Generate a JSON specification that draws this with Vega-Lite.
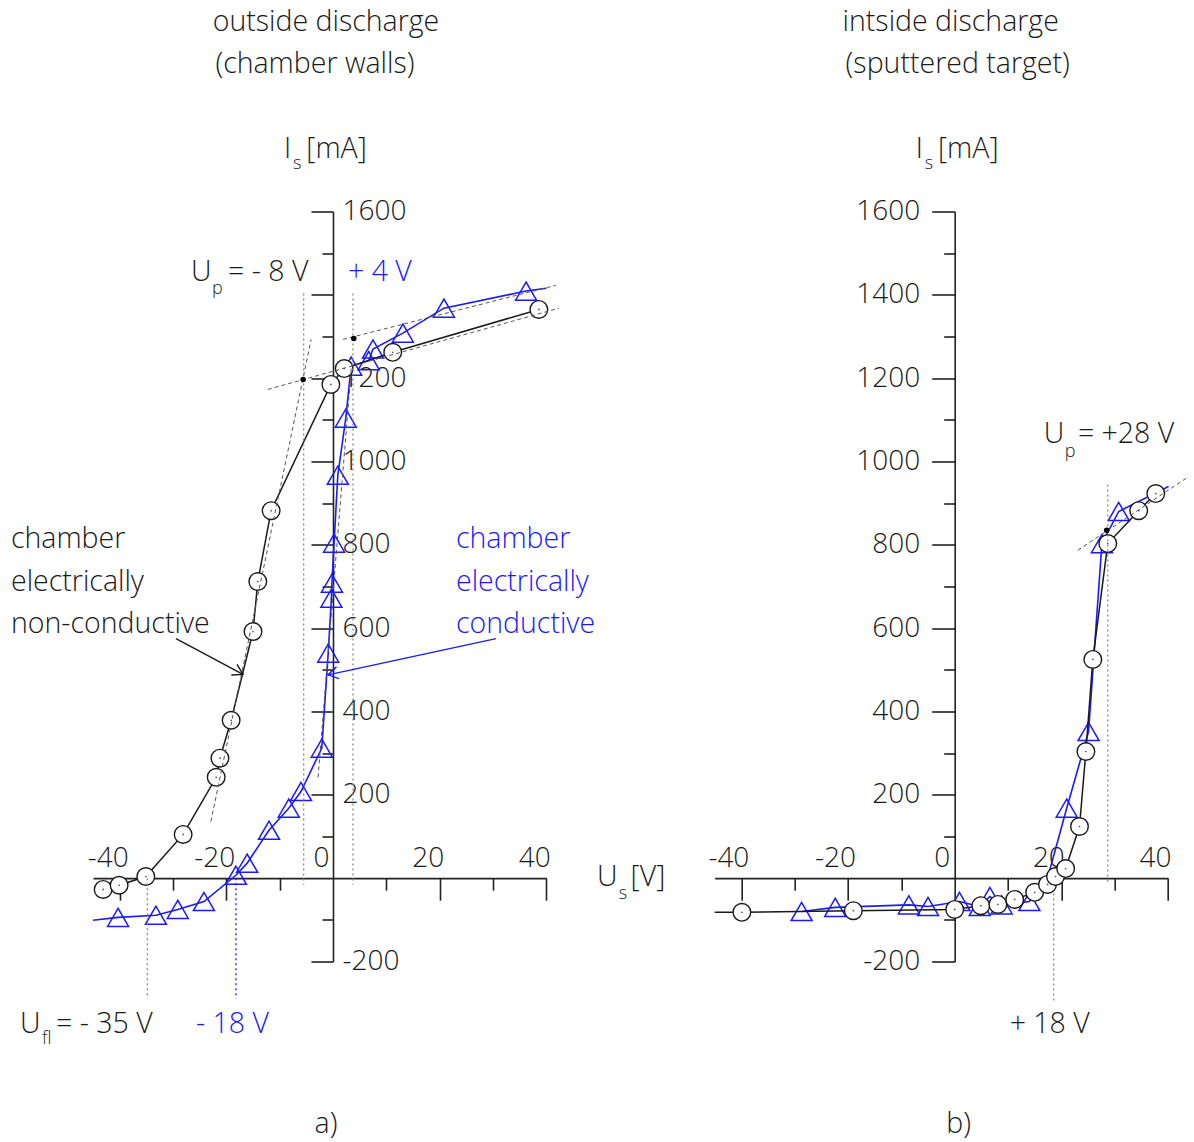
{
  "$schema": "https://vega.github.io/schema/vega-lite/v6.json",
  "background": "white",
  "padding": {"left": 10, "top": 6.5, "right": 5, "bottom": 5},
  "autosize": {"type": "pad"},
  "spacing": 167.7,
  "bounds": "flush",
  "config": {
    "view": {"stroke": null},
    "text": {"font": "Open Sans", "fontWeight": 300},
    "axis": {"grid": false, "title": null, "domainColor": "#222", "domainWidth": 1.6, "tickColor": "#222", "tickWidth": 1.6, "labelFont": "Open Sans", "labelFontWeight": 300, "labelFontSize": 28, "labelColor": "#1a1a1a", "labelFlush": false, "labelOverlap": false, "labelBound": false}
  },
  "datasets": {
    "pts": [
      {"p": "a", "s": "nc", "m": 1, "U": -43.1, "I": -27},
      {"p": "a", "s": "nc", "m": 1, "U": -40.1, "I": -17},
      {"p": "a", "s": "nc", "m": 1, "U": -35.1, "I": 4},
      {"p": "a", "s": "nc", "m": 1, "U": -28.1, "I": 105},
      {"p": "a", "s": "nc", "m": 1, "U": -21.9, "I": 242},
      {"p": "a", "s": "nc", "m": 1, "U": -21.2, "I": 288},
      {"p": "a", "s": "nc", "m": 1, "U": -19.1, "I": 379},
      {"p": "a", "s": "nc", "m": 1, "U": -15.0, "I": 592},
      {"p": "a", "s": "nc", "m": 1, "U": -14.1, "I": 712},
      {"p": "a", "s": "nc", "m": 1, "U": -11.6, "I": 882},
      {"p": "a", "s": "nc", "m": 1, "U": -0.4, "I": 1185},
      {"p": "a", "s": "nc", "m": 1, "U": 2.1, "I": 1223},
      {"p": "a", "s": "nc", "m": 1, "U": 11.2, "I": 1262},
      {"p": "a", "s": "nc", "m": 1, "U": 38.6, "I": 1365},
      {"p": "a", "s": "c", "m": 0, "U": -45, "I": -101},
      {"p": "a", "s": "c", "m": 1, "U": -40.3, "I": -94},
      {"p": "a", "s": "c", "m": 1, "U": -33.2, "I": -89},
      {"p": "a", "s": "c", "m": 1, "U": -29.1, "I": -75},
      {"p": "a", "s": "c", "m": 1, "U": -24.2, "I": -56},
      {"p": "a", "s": "c", "m": 1, "U": -18.2, "I": 7},
      {"p": "a", "s": "c", "m": 1, "U": -16.1, "I": 36},
      {"p": "a", "s": "c", "m": 1, "U": -12.0, "I": 115},
      {"p": "a", "s": "c", "m": 1, "U": -8.3, "I": 168},
      {"p": "a", "s": "c", "m": 1, "U": -6.0, "I": 208},
      {"p": "a", "s": "c", "m": 1, "U": -2.1, "I": 312},
      {"p": "a", "s": "c", "m": 1, "U": -0.9, "I": 540},
      {"p": "a", "s": "c", "m": 1, "U": -0.3, "I": 672},
      {"p": "a", "s": "c", "m": 1, "U": -0.2, "I": 708},
      {"p": "a", "s": "c", "m": 1, "U": 0.2, "I": 804},
      {"p": "a", "s": "c", "m": 1, "U": 0.9, "I": 967},
      {"p": "a", "s": "c", "m": 1, "U": 2.4, "I": 1104},
      {"p": "a", "s": "c", "m": 1, "U": 3.4, "I": 1229},
      {"p": "a", "s": "c", "m": 1, "U": 6.7, "I": 1242},
      {"p": "a", "s": "c", "m": 1, "U": 7.5, "I": 1270},
      {"p": "a", "s": "c", "m": 1, "U": 13.1, "I": 1308},
      {"p": "a", "s": "c", "m": 1, "U": 20.8, "I": 1368},
      {"p": "a", "s": "c", "m": 1, "U": 36.2, "I": 1409},
      {"p": "a", "s": "c", "m": 0, "U": 40, "I": 1416},
      {"p": "b", "s": "nc", "m": 0, "U": -45, "I": -82},
      {"p": "b", "s": "nc", "m": 1, "U": -39.9, "I": -82},
      {"p": "b", "s": "nc", "m": 1, "U": -19.0, "I": -78},
      {"p": "b", "s": "nc", "m": 1, "U": 0, "I": -75},
      {"p": "b", "s": "nc", "m": 1, "U": 4.9, "I": -66},
      {"p": "b", "s": "nc", "m": 1, "U": 8.1, "I": -63},
      {"p": "b", "s": "nc", "m": 1, "U": 11.25, "I": -51},
      {"p": "b", "s": "nc", "m": 1, "U": 15.0, "I": -34},
      {"p": "b", "s": "nc", "m": 1, "U": 17.4, "I": -15},
      {"p": "b", "s": "nc", "m": 1, "U": 18.9, "I": 4},
      {"p": "b", "s": "nc", "m": 1, "U": 20.8, "I": 23},
      {"p": "b", "s": "nc", "m": 1, "U": 23.4, "I": 124},
      {"p": "b", "s": "nc", "m": 1, "U": 24.6, "I": 304},
      {"p": "b", "s": "nc", "m": 1, "U": 25.9, "I": 525},
      {"p": "b", "s": "nc", "m": 1, "U": 28.7, "I": 803},
      {"p": "b", "s": "nc", "m": 1, "U": 34.5, "I": 882},
      {"p": "b", "s": "nc", "m": 1, "U": 37.7, "I": 923},
      {"p": "b", "s": "c", "m": 1, "U": -28.7, "I": -80},
      {"p": "b", "s": "c", "m": 1, "U": -22.4, "I": -70},
      {"p": "b", "s": "c", "m": 1, "U": -8.6, "I": -64},
      {"p": "b", "s": "c", "m": 1, "U": -5.0, "I": -68},
      {"p": "b", "s": "c", "m": 1, "U": 0.9, "I": -56},
      {"p": "b", "s": "c", "m": 1, "U": 4.7, "I": -68},
      {"p": "b", "s": "c", "m": 1, "U": 6.6, "I": -44},
      {"p": "b", "s": "c", "m": 1, "U": 8.8, "I": -64},
      {"p": "b", "s": "c", "m": 1, "U": 14.0, "I": -56},
      {"p": "b", "s": "c", "m": 0, "U": 17.6, "I": 9},
      {"p": "b", "s": "c", "m": 1, "U": 21.0, "I": 168},
      {"p": "b", "s": "c", "m": 1, "U": 25.1, "I": 352},
      {"p": "b", "s": "c", "m": 1, "U": 27.6, "I": 803},
      {"p": "b", "s": "c", "m": 1, "U": 30.75, "I": 880},
      {"p": "b", "s": "c", "m": 0, "U": 40.1, "I": 940}
    ],
    "guides": [
      {"p": "a", "k": "tan", "U": -12.2, "I": 1173, "U2": 42.4, "I2": 1368},
      {"p": "a", "k": "tan", "U": 1.9, "I": 1293, "U2": 41.8, "I2": 1423},
      {"p": "a", "k": "tan", "U": -22.9, "I": 136, "U2": -4.1, "I2": 1293},
      {"p": "a", "k": "tan", "U": -2.8, "I": 242, "U2": 3.6, "I2": 1250},
      {"p": "a", "k": "vdot", "U": -5.5, "I": 1403, "U2": -5.5, "I2": -15},
      {"p": "a", "k": "vdot", "U": 3.75, "I": 1403, "U2": 3.75, "I2": -15},
      {"p": "a", "k": "vdot", "U": -34.8, "I": 0, "U2": -34.8, "I2": -289},
      {"p": "a", "k": "vblue", "U": -18.2, "I": 0, "U2": -18.2, "I2": -289},
      {"p": "a", "k": "dot", "U": -5.6, "I": 1197},
      {"p": "a", "k": "dot", "U": 3.9, "I": 1295},
      {"p": "b", "k": "tan", "U": 23.1, "I": 787, "U2": 43.9, "I2": 964},
      {"p": "b", "k": "vdot", "U": 28.7, "I": 945, "U2": 28.7, "I2": -15},
      {"p": "b", "k": "vdot", "U": 18.56, "I": -37, "U2": 18.56, "I2": -296},
      {"p": "b", "k": "dot", "U": 28.5, "I": 835}
    ],
    "arrows": [
      {"p": "a", "c": "k", "U": -29.44, "I": 575, "U2": -16.88, "I2": 489},
      {"p": "a", "c": "b", "U": 30.56, "I": 575, "U2": -0.94, "I2": 488}
    ],
    "txt": [
      {"p": "a", "kind": "main", "al": "center", "c": "k", "t": "outside discharge", "U": -1.31, "I": 2056},
      {"p": "a", "kind": "main", "al": "center", "c": "k", "t": "(chamber walls)", "U": -3.38, "I": 1955},
      {"p": "a", "kind": "main", "al": "left", "c": "k", "t": "I", "U": -9.19, "I": 1751},
      {"p": "a", "kind": "sub", "al": "left", "c": "k", "t": "s", "U": -7.5, "I": 1713},
      {"p": "a", "kind": "main", "al": "left", "c": "k", "t": "[mA]", "U": -5.0, "I": 1751},
      {"p": "a", "kind": "main", "al": "left", "c": "k", "t": "U", "U": -26.63, "I": 1456},
      {"p": "a", "kind": "sub", "al": "left", "c": "k", "t": "p", "U": -22.69, "I": 1413},
      {"p": "a", "kind": "main", "al": "left", "c": "k", "t": "= - 8 V", "U": -19.69, "I": 1456},
      {"p": "a", "kind": "main", "al": "left", "c": "b", "t": "+ 4 V", "U": 2.81, "I": 1456},
      {"p": "a", "kind": "main", "al": "left", "c": "k", "t": "chamber", "U": -60.38, "I": 813},
      {"p": "a", "kind": "main", "al": "left", "c": "k", "t": "electrically", "U": -60.38, "I": 712},
      {"p": "a", "kind": "main", "al": "left", "c": "k", "t": "non-conductive", "U": -60.38, "I": 611},
      {"p": "a", "kind": "main", "al": "left", "c": "b", "t": "chamber", "U": 23.06, "I": 813},
      {"p": "a", "kind": "main", "al": "left", "c": "b", "t": "electrically", "U": 23.06, "I": 712},
      {"p": "a", "kind": "main", "al": "left", "c": "b", "t": "conductive", "U": 23.06, "I": 611},
      {"p": "a", "kind": "main", "al": "left", "c": "k", "t": "U", "U": 49.5, "I": 4},
      {"p": "a", "kind": "sub", "al": "left", "c": "k", "t": "s", "U": 53.6, "I": -39},
      {"p": "a", "kind": "main", "al": "left", "c": "k", "t": "[V]", "U": 55.8, "I": 4},
      {"p": "a", "kind": "main", "al": "left", "c": "k", "t": "U", "U": -58.69, "I": -349},
      {"p": "a", "kind": "sub", "al": "left", "c": "k", "t": "fl", "U": -54.55, "I": -387},
      {"p": "a", "kind": "main", "al": "left", "c": "k", "t": "= - 35 V", "U": -51.94, "I": -349},
      {"p": "a", "kind": "main", "al": "left", "c": "b", "t": "- 18 V", "U": -25.69, "I": -349},
      {"p": "a", "kind": "main", "al": "center", "c": "k", "t": "a)", "U": -1.31, "I": -589},
      {"p": "b", "kind": "main", "al": "center", "c": "k", "t": "intside discharge", "U": -0.75, "I": 2056},
      {"p": "b", "kind": "main", "al": "center", "c": "k", "t": "(sputtered target)", "U": 0.56, "I": 1955},
      {"p": "b", "kind": "main", "al": "left", "c": "k", "t": "I", "U": -7.31, "I": 1751},
      {"p": "b", "kind": "sub", "al": "left", "c": "k", "t": "s", "U": -5.62, "I": 1713},
      {"p": "b", "kind": "main", "al": "left", "c": "k", "t": "[mA]", "U": -3.13, "I": 1751},
      {"p": "b", "kind": "main", "al": "left", "c": "k", "t": "U", "U": 16.69, "I": 1065},
      {"p": "b", "kind": "sub", "al": "left", "c": "k", "t": "p", "U": 20.63, "I": 1022},
      {"p": "b", "kind": "main", "al": "left", "c": "k", "t": "= +28 V", "U": 23.1, "I": 1065},
      {"p": "b", "kind": "main", "al": "left", "c": "k", "t": "+ 18 V", "U": 10.31, "I": -349},
      {"p": "b", "kind": "main", "al": "center", "c": "k", "t": "b)", "U": 0.75, "I": -589}
    ]
  },
  "hconcat": [
    {
      "width": 453.33,
      "height": 750,
      "encoding": {
        "x": {"field": "U", "type": "quantitative", "scale": {"domain": [-45, 40], "nice": false, "zero": false},
          "axis": {"orient": "bottom", "offset": -83.33, "values": [-40, -30, -20, -10, 0, 10, 20, 30, 40],
            "tickSize": {"condition": {"test": "datum.value % 20 === 0", "value": 22}, "value": 12},
            "tickOpacity": {"condition": {"test": "datum.value === 0", "value": 0}, "value": 1},
            "labelExpr": "datum.value % 20 === 0 ? '' + datum.value : ''",
            "labelAlign": "center", "labelBaseline": "alphabetic", "labelPadding": -34, "labelOffset": -12}},
        "y": {"field": "I", "type": "quantitative", "scale": {"domain": [-200, 1600], "nice": false, "zero": false},
          "axis": {"orient": "left", "offset": -240, "values": [-200, -100, 100, 200, 300, 400, 500, 600, 700, 800, 900, 1000, 1100, 1200, 1300, 1400, 1500, 1600],
            "tickSize": {"condition": {"test": "datum.value % 200 === 0", "value": 22}, "value": 11},
            "labelExpr": "datum.value % 200 === 0 && datum.value !== 1400 ? '' + datum.value : ''",
            "labelAlign": "left", "labelBaseline": "middle", "labelPadding": -31}}
      },
      "layer": [
        {"data": {"name": "pts"}, "transform": [{"filter": "datum.p === 'a' && datum.s === 'c'"}],
          "mark": {"type": "line", "color": "#1a1aff", "strokeWidth": 1.6}},
        {"data": {"name": "pts"}, "transform": [{"filter": "datum.p === 'a' && datum.s === 'c' && datum.m === 1"}],
          "mark": {"type": "point", "shape": "triangle-up", "filled": false, "color": "#1a1aff", "strokeWidth": 1.5, "size": 440, "opacity": 1}},
        {"data": {"name": "pts"}, "transform": [{"filter": "datum.p === 'a' && datum.s === 'nc'"}],
          "mark": {"type": "line", "color": "#1a1a1a", "strokeWidth": 1.5}},
        {"data": {"name": "pts"}, "transform": [{"filter": "datum.p === 'a' && datum.s === 'nc' && datum.m === 1"}],
          "mark": {"type": "point", "shape": "circle", "filled": true, "fill": "white", "stroke": "#1a1a1a", "strokeWidth": 1.4, "size": 310, "opacity": 1}},
        {"data": {"name": "pts"}, "transform": [{"filter": "datum.p === 'a' && datum.s === 'nc' && datum.m === 1"}],
          "mark": {"type": "point", "shape": "circle", "filled": true, "color": "#555", "size": 3, "opacity": 1}},
        {"data": {"name": "guides"}, "transform": [{"filter": "datum.p === 'a' && datum.k === 'tan'"}],
          "mark": {"type": "rule", "color": "#555", "strokeWidth": 1, "strokeDash": [4, 3]},
          "encoding": {"x2": {"field": "U2"}, "y2": {"field": "I2"}}},
        {"data": {"name": "guides"}, "transform": [{"filter": "datum.p === 'a' && datum.k === 'vdot'"}],
          "mark": {"type": "rule", "color": "#888", "strokeWidth": 1.3, "strokeDash": [2, 3]},
          "encoding": {"x2": {"field": "U2"}, "y2": {"field": "I2"}}},
        {"data": {"name": "guides"}, "transform": [{"filter": "datum.p === 'a' && datum.k === 'vblue'"}],
          "mark": {"type": "rule", "color": "#1a1aff", "strokeWidth": 1.3, "strokeDash": [2, 3]},
          "encoding": {"x2": {"field": "U2"}, "y2": {"field": "I2"}}},
        {"data": {"name": "guides"}, "transform": [{"filter": "datum.p === 'a' && datum.k === 'dot'"}],
          "mark": {"type": "point", "shape": "circle", "filled": true, "color": "#000", "size": 30, "opacity": 1}},
        {"data": {"name": "arrows"}, "transform": [{"filter": "datum.p === 'a'"}],
          "mark": {"type": "rule", "strokeWidth": 1.4},
          "encoding": {"x2": {"field": "U2"}, "y2": {"field": "I2"},
            "color": {"field": "c", "type": "nominal", "scale": {"domain": ["k", "b"], "range": ["#1a1a1a", "#1a1aff"]}, "legend": null}}},
        {"data": {"name": "arrows"}, "transform": [{"filter": "datum.p === 'a' && datum.c === 'k'"}],
          "mark": {"type": "point", "shape": "M-1,-0.6L0,0L-1,0.6", "filled": false, "color": "#1a1a1a", "strokeWidth": 1.4, "size": 400, "angle": 28.4, "opacity": 1},
          "encoding": {"x": {"field": "U2", "type": "quantitative"}, "y": {"field": "I2", "type": "quantitative"}}},
        {"data": {"name": "arrows"}, "transform": [{"filter": "datum.p === 'a' && datum.c === 'b'"}],
          "mark": {"type": "point", "shape": "M-1,-0.6L0,0L-1,0.6", "filled": false, "color": "#1a1aff", "strokeWidth": 1.4, "size": 400, "angle": 167.9, "opacity": 1},
          "encoding": {"x": {"field": "U2", "type": "quantitative"}, "y": {"field": "I2", "type": "quantitative"}}},
        {"data": {"name": "txt"}, "transform": [{"filter": "datum.p === 'a' && datum.kind === 'main' && datum.al === 'left'"}],
          "mark": {"type": "text", "align": "left", "baseline": "middle", "fontSize": 28.5},
          "encoding": {"text": {"field": "t"},
            "color": {"field": "c", "type": "nominal", "scale": {"domain": ["k", "b"], "range": ["#1a1a1a", "#1a1aff"]}, "legend": null}}},
        {"data": {"name": "txt"}, "transform": [{"filter": "datum.p === 'a' && datum.kind === 'main' && datum.al === 'center'"}],
          "mark": {"type": "text", "align": "center", "baseline": "middle", "fontSize": 28.5, "color": "#1a1a1a"},
          "encoding": {"text": {"field": "t"}}},
        {"data": {"name": "txt"}, "transform": [{"filter": "datum.p === 'a' && datum.kind === 'sub'"}],
          "mark": {"type": "text", "align": "left", "baseline": "middle", "fontSize": 18, "color": "#1a1a1a"},
          "encoding": {"text": {"field": "t"}}}
      ]
    },
    {
      "width": 453.33,
      "height": 750,
      "encoding": {
        "x": {"field": "U", "type": "quantitative", "scale": {"domain": [-45, 40], "nice": false, "zero": false},
          "axis": {"orient": "bottom", "offset": -83.33, "values": [-40, -30, -20, -10, 0, 10, 20, 30, 40],
            "tickSize": {"condition": {"test": "datum.value % 20 === 0", "value": 22}, "value": 12},
            "tickOpacity": {"condition": {"test": "datum.value === 0", "value": 0}, "value": 1},
            "labelExpr": "datum.value % 20 === 0 ? '' + datum.value : ''",
            "labelAlign": "center", "labelBaseline": "alphabetic", "labelPadding": -34, "labelOffset": -13}},
        "y": {"field": "I", "type": "quantitative", "scale": {"domain": [-200, 1600], "nice": false, "zero": false},
          "axis": {"orient": "left", "offset": -240, "values": [-200, -100, 100, 200, 300, 400, 500, 600, 700, 800, 900, 1000, 1100, 1200, 1300, 1400, 1500, 1600],
            "tickSize": {"condition": {"test": "datum.value % 200 === 0", "value": 23}, "value": 11},
            "labelExpr": "datum.value % 200 === 0 ? '' + datum.value : ''",
            "labelAlign": "right", "labelBaseline": "middle", "labelPadding": 12}}
      },
      "layer": [
        {"data": {"name": "pts"}, "transform": [{"filter": "datum.p === 'b' && datum.s === 'c'"}],
          "mark": {"type": "line", "color": "#1a1aff", "strokeWidth": 1.6}},
        {"data": {"name": "pts"}, "transform": [{"filter": "datum.p === 'b' && datum.s === 'c' && datum.m === 1"}],
          "mark": {"type": "point", "shape": "triangle-up", "filled": false, "color": "#1a1aff", "strokeWidth": 1.5, "size": 440, "opacity": 1}},
        {"data": {"name": "pts"}, "transform": [{"filter": "datum.p === 'b' && datum.s === 'nc'"}],
          "mark": {"type": "line", "color": "#1a1a1a", "strokeWidth": 1.5}},
        {"data": {"name": "pts"}, "transform": [{"filter": "datum.p === 'b' && datum.s === 'nc' && datum.m === 1"}],
          "mark": {"type": "point", "shape": "circle", "filled": true, "fill": "white", "stroke": "#1a1a1a", "strokeWidth": 1.4, "size": 310, "opacity": 1}},
        {"data": {"name": "pts"}, "transform": [{"filter": "datum.p === 'b' && datum.s === 'nc' && datum.m === 1"}],
          "mark": {"type": "point", "shape": "circle", "filled": true, "color": "#555", "size": 3, "opacity": 1}},
        {"data": {"name": "guides"}, "transform": [{"filter": "datum.p === 'b' && datum.k === 'tan'"}],
          "mark": {"type": "rule", "color": "#555", "strokeWidth": 1, "strokeDash": [4, 3]},
          "encoding": {"x2": {"field": "U2"}, "y2": {"field": "I2"}}},
        {"data": {"name": "guides"}, "transform": [{"filter": "datum.p === 'b' && datum.k === 'vdot'"}],
          "mark": {"type": "rule", "color": "#888", "strokeWidth": 1.3, "strokeDash": [2, 3]},
          "encoding": {"x2": {"field": "U2"}, "y2": {"field": "I2"}}},
        {"data": {"name": "guides"}, "transform": [{"filter": "datum.p === 'b' && datum.k === 'dot'"}],
          "mark": {"type": "point", "shape": "circle", "filled": true, "color": "#000", "size": 30, "opacity": 1}},
        {"data": {"name": "txt"}, "transform": [{"filter": "datum.p === 'b' && datum.kind === 'main' && datum.al === 'left'"}],
          "mark": {"type": "text", "align": "left", "baseline": "middle", "fontSize": 28.5, "color": "#1a1a1a"},
          "encoding": {"text": {"field": "t"}}},
        {"data": {"name": "txt"}, "transform": [{"filter": "datum.p === 'b' && datum.kind === 'main' && datum.al === 'center'"}],
          "mark": {"type": "text", "align": "center", "baseline": "middle", "fontSize": 28.5, "color": "#1a1a1a"},
          "encoding": {"text": {"field": "t"}}},
        {"data": {"name": "txt"}, "transform": [{"filter": "datum.p === 'b' && datum.kind === 'sub'"}],
          "mark": {"type": "text", "align": "left", "baseline": "middle", "fontSize": 18, "color": "#1a1a1a"},
          "encoding": {"text": {"field": "t"}}}
      ]
    }
  ]
}
